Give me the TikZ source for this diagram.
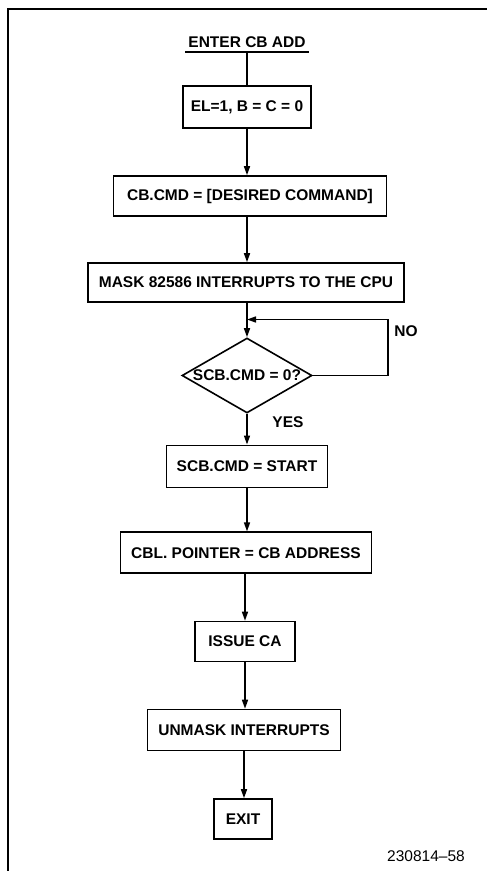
\documentclass[tikz,border=0pt]{standalone}
\usepackage{fontspec}
\setmainfont{Liberation Sans}
\usetikzlibrary{arrows.meta,shapes.geometric}
\tikzset{
  blk/.style={draw,line width=1.6pt,minimum height=40pt,inner sep=0pt,
    font=\fontsize{15.5}{18}\selectfont\bfseries},
  cond/.style={draw,diamond,line width=1.6pt,minimum width=130pt,
    minimum height=75pt,inner sep=0pt},
  lbl/.style={font=\fontsize{15.5}{18}\selectfont\bfseries,inner sep=0pt},
  arr/.style={line width=1.5pt,-{Triangle[length=9pt,width=6pt]}},
  ln/.style={line width=1.5pt}
}
\begin{document}
\begin{tikzpicture}[x=1pt,y=-1pt]
  \useasboundingbox (0,0) rectangle (487,871);
  % frame
  \draw[line width=2pt] (7.5,871) -- (7.5,8.7) -- (487,8.7);
  % blocks
  \node[lbl,minimum width=124pt,anchor=base] (enter) at (247,47) {ENTER CB ADD};
  \draw[line width=2pt] (185,52) -- (309,52);
  \coordinate (top) at (247,52);
  \node[blk,minimum width=128pt,minimum height=42pt] (init) at (247,107) {EL=1, B = C = 0};
  \node[blk,minimum width=273pt] (cmd) at (250,196) {CB.CMD = [DESIRED COMMAND]};
  \node[blk,minimum width=316pt,minimum height=39pt] (mask) at (246,282.5) {MASK 82586 INTERRUPTS TO THE CPU};
  \node[cond,label=center:{\fontsize{15.5}{18}\selectfont\bfseries SCB.CMD = 0?}] (test) at (247,375.5) {};
  \node[blk,minimum width=161pt,minimum height=42pt] (start) at (247,466.3) {SCB.CMD = START};
  \node[blk,minimum width=251pt,minimum height=41pt] (ptr) at (246,552.7) {CBL. POINTER = CB ADDRESS};
  \node[blk,minimum width=100pt] (ca) at (245,641.5) {ISSUE CA};
  \node[blk,minimum width=193pt,minimum height=41pt] (unmask) at (244,730) {UNMASK INTERRUPTS};
  \node[blk,minimum width=58pt] (exit) at (243,819) {EXIT};
  \coordinate (join) at (247,319.5);
  % connectors
  \draw[ln] (top) -- (init);
  \draw[arr] (init) -- (init |- cmd.north);
  \draw[arr] (init |- cmd.south) -- (init |- mask.north);
  \draw[ln] (mask.south -| join) -- (join);
  \draw[arr] (join) -- (test.north);
  \draw[arr] (test.east) -- ++(75,0) |- (join);
  \draw[arr] (test.south) -- (test.south |- start.north);
  \draw[arr] (start.south) -- (start.south |- ptr.north);
  \draw[arr] (ptr.south -| ca) -- (ca.north);
  \draw[arr] (ca) -- (ca |- unmask.north);
  \draw[arr] (unmask) -- (unmask |- exit.north);
  % labels
  \node[lbl] (no) at (406,331) {NO};
  \node[lbl] (yes) at (288,422) {YES};
  \node[font=\fontsize{15.5}{18}\selectfont,inner sep=0pt] (fig) at (426,856) {230814--58};
\end{tikzpicture}
\end{document}
